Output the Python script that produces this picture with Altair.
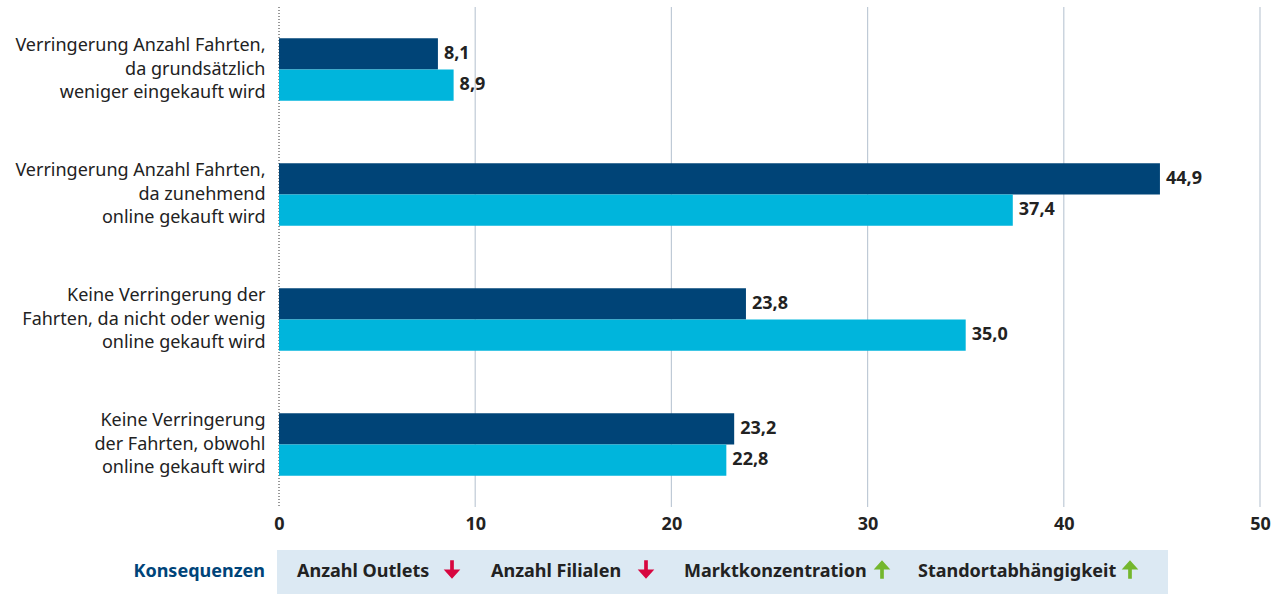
import altair as alt
import pandas as pd

categories = [
    "Verringerung Anzahl Fahrten,|da grundsätzlich|weniger eingekauft wird",
    "Verringerung Anzahl Fahrten,|da zunehmend|online gekauft wird",
    "Keine Verringerung der|Fahrten, da nicht oder wenig|online gekauft wird",
    "Keine Verringerung|der Fahrten, obwohl|online gekauft wird",
]
series_names = ["Reihe 1", "Reihe 2"]
dark_values = [8.1, 44.9, 23.8, 23.2]
light_values = [8.9, 37.4, 35.0, 22.8]
x_ticks = [0, 10, 20, 30, 40, 50]
consequences = ["Anzahl Outlets", "Anzahl Filialen", "Marktkonzentration", "Standortabhängigkeit"]
arrow_dirs = ["down", "down", "up", "up"]

FONT = "Noto Sans"
DARK = "#004477"
LIGHT = "#00b5dc"
TXT = "#222222"
FS = 18

rows = []
for i, c in enumerate(categories):
    rows.append({"cat": c, "series": series_names[0], "value": dark_values[i]})
    rows.append({"cat": c, "series": series_names[1], "value": light_values[i]})
df = pd.DataFrame(rows)

xscale = alt.Scale(domain=[0, 50], nice=False)

base = alt.Chart(df)
x_enc = alt.X("value:Q", scale=xscale,
              axis=alt.Axis(values=x_ticks, title=None, grid=False, domain=False, ticks=False,
                            labelFlush=False,
                            labelFontWeight="bold", labelFontSize=FS, labelColor=TXT,
                            labelPadding=8, labelFont=FONT))
y_enc = alt.Y("cat:N", sort=categories,
              scale=alt.Scale(paddingInner=0.5, paddingOuter=0.25),
              axis=alt.Axis(title=None, domain=False, ticks=False,
                            labelExpr="split(datum.label, '|')",
                            labelFontSize=FS, labelLineHeight=23.5, labelPadding=14,
                            labelOffset=-23.5,
                            labelColor=TXT, labelLimit=400, labelFont=FONT))
yoff = alt.YOffset("series:N", sort=series_names, scale=alt.Scale(paddingInner=0, paddingOuter=0))
color = alt.Color("series:N", scale=alt.Scale(domain=series_names, range=[DARK, LIGHT]), legend=None)

grid_df = pd.DataFrame({"t": x_ticks[1:]})
grid = alt.Chart(grid_df).mark_rule(color="#bfcad6", strokeWidth=1.2).encode(
    x=alt.X("t:Q", scale=xscale))
zero = alt.Chart(pd.DataFrame({"t": x_ticks[:1]})).mark_rule(
    color="#333333", strokeWidth=1, strokeDash=[1, 2]).encode(x=alt.X("t:Q", scale=xscale))

bars = base.mark_bar().encode(x=x_enc, y=y_enc, yOffset=yoff, color=color)
labels = base.transform_calculate(
    lbl="replace(format(datum.value, '.1f'), '.', ',')"
).mark_text(align="left", baseline="middle", dx=6, fontWeight="bold", fontSize=FS,
            color=TXT, font=FONT).encode(
    x=alt.X("value:Q", scale=xscale), y=alt.Y("cat:N", sort=categories), yOffset=yoff,
    text="lbl:N")

one = pd.DataFrame({"a": [0]})
box = alt.Chart(one).mark_rect(color="#dce9f3").encode(
    x=alt.value(-2), x2=alt.value(889), y=alt.value(543), y2=alt.value(587))
kons = alt.Chart(one).mark_text(align="right", baseline="middle", fontWeight="bold",
                                fontSize=FS, color="#004479", font=FONT).encode(
    x=alt.value(-14), y=alt.value(565), text=alt.value("Konsequenzen"))

DOWN = "M-0.2,-1L0.2,-1L0.2,0L0.9,0L0,1L-0.9,0L-0.2,0Z"
UP = "M-0.2,1L0.2,1L0.2,0L0.9,0L0,-1L-0.9,0L-0.2,0Z"
text_x = [18, 212, 405, 639]
arrow_x = [173, 367, 603, 851]
arrow_colors = ["#d7063f", "#d7063f", "#74b72d", "#74b72d"]
legend_layers = []
for i, name in enumerate(consequences):
    legend_layers.append(alt.Chart(one).mark_text(
        align="left", baseline="middle", fontWeight="bold", fontSize=FS, color=TXT, font=FONT
    ).encode(x=alt.value(text_x[i]), y=alt.value(565), text=alt.value(name)))
    legend_layers.append(alt.Chart(one).mark_point(
        shape=DOWN if arrow_dirs[i] == "down" else UP, filled=True,
        fill=arrow_colors[i], strokeWidth=0, size=340, opacity=1
    ).encode(x=alt.value(arrow_x[i]), y=alt.value(562.5)))

chart = alt.layer(grid, zero, bars, labels, box, kons, *legend_layers).properties(
    width=981, height=500,
    padding={"left": 279, "top": 7, "right": 17, "bottom": 89},
    autosize=alt.AutoSizeParams(type="none"),
).configure_view(stroke=None)

chart.save("out.html", embed_options={"renderer": "svg", "actions": False})
